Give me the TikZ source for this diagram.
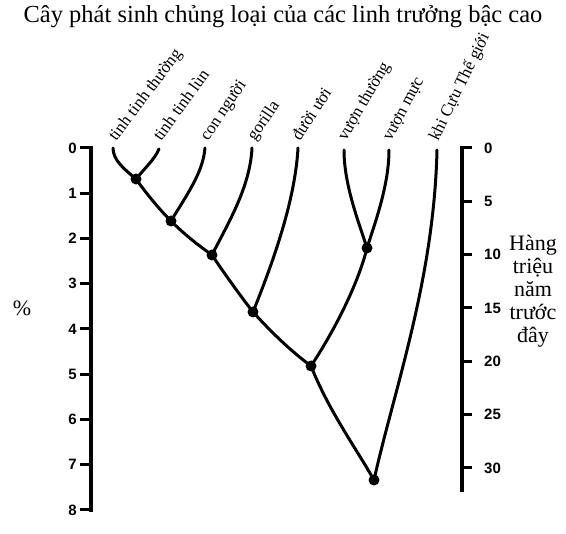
\documentclass[tikz,border=0pt]{standalone}
\usepackage{fontspec}
\setmainfont{Liberation Serif}
\newfontfamily\scalefont{Liberation Sans}

\begin{document}
\begin{tikzpicture}[%
    x=1pt, y=-1pt,              % one unit is one pixel, counted from the top
    line cap=round,
    ]
% -------------------------------------------------
% Styles for the tree and the two scales
\tikzset{
  branch/.style={draw, line width=3pt},
  dot/.style={circle, fill, inner sep=0pt, minimum size=11pt},
  taxon/.style={rotate=#1, anchor=base west, inner sep=0pt,
    font=\fontsize{17}{17}\selectfont},
  axisline/.style={line width=4.5pt, line cap=butt},
  scaletick/.style={line width=3pt, line cap=butt},
  scalelabel/.style={inner sep=0pt, font=\fontsize{15}{15}\selectfont\scalefont\bfseries},
  caption/.style={inner sep=0pt, align=center, font=\fontsize{24.5}{23}\selectfont},
  sidenote/.style={inner sep=0pt, align=center, font=\fontsize{22}{23}\selectfont}
}
\useasboundingbox (0,0) rectangle (566,534);
% -------------------------------------------------
% Title
\node [caption] (title) at (283,17)
  {Cây phát sinh chủng loại của các linh trưởng bậc cao};

% Tips of the branches and their names
\coordinate (tipA) at (113,148);
\coordinate (tipB) at (159,149);
\coordinate (tipC) at (205,148);
\coordinate (tipD) at (252,148);
\coordinate (tipE) at (298,148);
\coordinate (tipF) at (344,150);
\coordinate (tipG) at (389,150);
\coordinate (tipH) at (437,150);

\node [taxon=53] (lblA) at (116,142) {tinh tinh thường};
\node [taxon=54] (lblB) at (161,142) {tinh tinh lùn};
\node [taxon=56] (lblC) at (208,142) {con người};
\node [taxon=56] (lblD) at (255,142) {gorilla};
\node [taxon=57] (lblE) at (300,142) {đười ươi};
\node [taxon=60] (lblF) at (346,142) {vượn thường};
\node [taxon=62] (lblG) at (391,142) {vượn mực};
\node [taxon=64] (lblH) at (438,142) {khi Cựu Thế giới};

% Branching points
\node [dot] (n1) at (136,179) {};
\node [dot] (n2) at (171,221) {};
\node [dot] (n3) at (212,255) {};
\node [dot] (n4) at (253,312) {};
\node [dot] (n5) at (311,366) {};
\node [dot] (n6) at (367,248) {};
\node [dot] (n7) at (374,480) {};

% Branches
\draw [branch] (tipA) .. controls +(0,12) and +(-12,-10) .. (n1.center);
\draw [branch] (tipB) .. controls +(-4,10) and +(8,-10) .. (n1.center);
\draw [branch] (n1.center) .. controls +(10,14) and +(-12,-12) .. (n2.center);
\draw [branch] (tipC) .. controls +(-2,25) and +(15,-25) .. (n2.center);
\draw [branch] (n2.center) .. controls +(14,14) and +(-14,-10) .. (n3.center);
\draw [branch] (tipD) .. controls +(-2,40) and +(15,-30) .. (n3.center);
\draw [branch] (n3.center) .. controls +(12,18) and +(-14,-18) .. (n4.center);
\draw [branch] (tipE) .. controls +(-3,55) and +(18,-45) .. (n4.center);
\draw [branch] (n4.center) .. controls +(20,22) and +(-20,-15) .. (n5.center);
\draw [branch] (tipF) .. controls +(0,35) and +(-8,-25) .. (n6.center);
\draw [branch] (tipG) .. controls +(0,35) and +(8,-25) .. (n6.center);
\draw [branch] (n6.center) .. controls +(-10,40) and +(20,-30) .. (n5.center);
\draw [branch] (n5.center) .. controls +(18,45) and +(-20,-35) .. (n7.center);
\draw [branch] (tipH) .. controls +(-3,130) and +(20,-90) .. (n7.center);

% -------------------------------------------------
% Left scale: percent difference
\draw [axisline] (91,146) -- (91,512);
\foreach \v in {0,...,8} {
  \draw [scaletick] (80,148+45.25*\v) -- (91,148+45.25*\v);
  \node [scalelabel, anchor=east] (pct\v) at (77,148+45.25*\v) {\v};
}
\node [sidenote] (pct) at (22,308) {\%};

% Right scale: millions of years
\draw [axisline] (462,146) -- (462,492);
\foreach \k/\yr in {0/0,1/5,2/10,3/15,4/20,5/25,6/30} {
  \draw [scaletick] (462,148+53.33*\k) -- (472,148+53.33*\k);
  \node [scalelabel, anchor=west] (mya\k) at (484,148+53.33*\k) {\yr};
}
\node [sidenote] (mya) at (533,291) {Hàng\\triệu\\năm\\trước\\đây};

% -------------------------------------------------
\end{tikzpicture}
\end{document}
